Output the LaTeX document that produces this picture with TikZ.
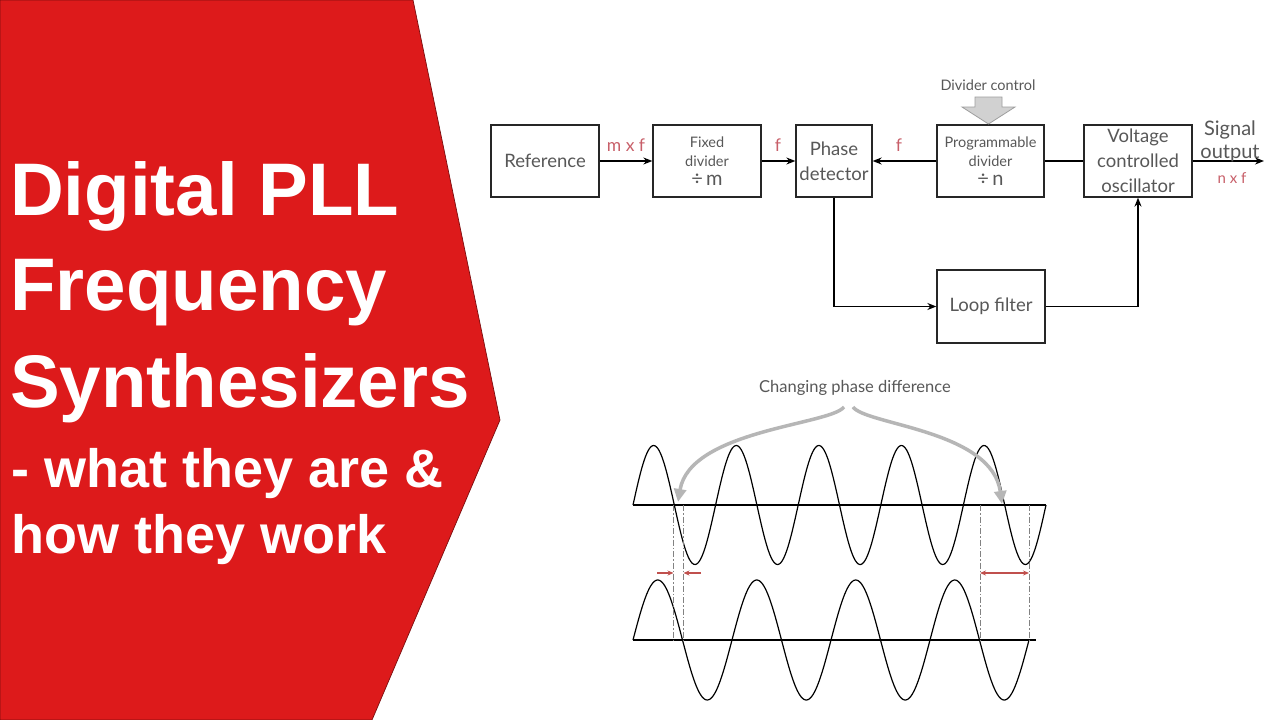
\documentclass[tikz,border=0pt]{standalone}
\usepackage{fontspec}
\newfontfamily\titlefont{Liberation Sans}
\newfontfamily\lato{Lato}
\usetikzlibrary{arrows.meta,calc}
\definecolor{slidered}{RGB}{221,26,27}
\definecolor{txtgray}{RGB}{88,88,88}
\definecolor{lblred}{RGB}{200,95,105}
\definecolor{arrgray}{RGB}{182,182,182}
\definecolor{dashgray}{RGB}{130,130,130}
\definecolor{tipred}{RGB}{192,80,77}
\begin{document}
\begin{tikzpicture}[x=1pt,y=-1pt,
  blk/.style={draw=black!85,line width=1.3pt,minimum width=108pt,minimum height=72pt,inner sep=0pt,text=txtgray,font=\lato\fontsize{18.5}{25}\selectfont,align=center},
  divblk/.style={blk,font=\lato\fontsize{14.5}{19}\selectfont},
  conn/.style={line width=1.4pt,-{Stealth[length=9pt,width=7pt]}},
  plainline/.style={line width=1.4pt},
  lbl/.style={text=lblred,font=\lato\fontsize{17.5}{18}\selectfont,inner sep=0pt},
  ttl/.style={text=white,font=\titlefont\bfseries\fontsize{74.5}{80}\selectfont,anchor=base west,inner sep=0pt},
  subttl/.style={text=white,font=\titlefont\bfseries\fontsize{54}{60}\selectfont,anchor=base west,inner sep=0pt},
  wave/.style={line width=1.2pt},
  guide/.style={draw=dashgray,line width=0.9pt,dash pattern=on 6pt off 2pt on 1.5pt off 2pt},
  gaparrow/.style={draw=tipred,line width=1.2pt},
  curvearrow/.style={draw=arrgray,line width=3.5pt,-{Triangle[length=13pt,width=12pt]}}
]
\useasboundingbox (0,0) rectangle (1280,720);
\fill[white] (0,0) rectangle (1280,720);

% red title panel
\filldraw[fill=slidered,draw=black!45!slidered,line width=0.7pt]
  (0,0) -- (413,0) -- (500,420) -- (372,720) -- (0,720) -- cycle;
\node[ttl] (t1) at (10,215) {Digital PLL};
\node[ttl] (t2) at (10,310) {Frequency};
\node[ttl] (t3) at (10,407) {Synthesizers};
\node[subttl] (t4) at (11,487) {- what they are \&};
\node[subttl] (t5) at (11,553) {how they work};

% block diagram
\node[blk] (ref) at (545,161) {Reference};
\node[divblk] (fix) at (707,161) {Fixed\\divider\\{\fontsize{20}{19}\selectfont ÷\,m}};
\node[blk,minimum width=76pt] (pd) at (834,161) {Phase\\detector};
\node[divblk,minimum width=107pt] (prog) at (990.5,161) {Programmable\\divider\\{\fontsize{20}{19}\selectfont ÷\,n}};
\node[blk] (vco) at (1138,161) {Voltage\\controlled\\oscillator};
\node[blk,minimum height=73pt] (lf) at (991,306.5) {Loop filter};

\coordinate (out) at (1264,161);
\draw[conn] (ref) -- (fix);
\draw[conn] (fix) -- (pd);
\draw[conn] (prog) -- (pd);
\draw[plainline] (vco) -- (prog);
\draw[conn] (vco) -- (out);
\draw[conn] (pd.south) |- (lf.west);
\draw[conn] (lf.east) -| (vco.south);

\node[lbl] (l1) at (626,145) {m x f};
\node[lbl] (l2) at (778,145) {f};
\node[lbl] (l3) at (899,145) {f};
\node[lbl,font=\lato\fontsize{15}{15}\selectfont] (l4) at (1232,178) {n x f};
\node[text=txtgray,font=\lato\fontsize{20}{23}\selectfont,align=center,inner sep=0pt] (sig) at (1230,141) {Signal\\output};

\node[text=txtgray,font=\lato\fontsize{14.5}{15}\selectfont,inner sep=0pt] (dc) at (988,85) {Divider control};
\filldraw[fill=black!18,draw=black!38,line width=0.8pt]
  (975,97) -- (1002,97) -- (1002,107) -- (1015,107) -- (988.5,124) -- (962,107) -- (975,107) -- cycle;

% waveforms
\node[text=txtgray,font=\lato\fontsize{16.5}{17}\selectfont,inner sep=0pt] (cpd) at (855,388) {Changing phase difference};
\coordinate (ta0) at (633,505); \coordinate (ta1) at (1046,505);
\coordinate (ba0) at (633,640); \coordinate (ba1) at (1036,640);
\draw[wave] (ta0) -- (ta1);
\draw[wave] (ba0) -- (ba1);
\draw[wave] plot[domain=0:413,samples=300,smooth] ({633+\x},{505-59.5*sin(4.35835*\x)});
\draw[wave] plot[domain=0:396,samples=300,smooth] ({633+\x},{640-60*sin(3.63636*\x)});

\draw[guide] (673.5,505) -- (673.5,640);
\draw[guide] (683.5,505) -- (683.5,640);
\draw[guide] (980,505) -- (980,640);
\draw[guide] (1029,505) -- (1029,640);

\draw[gaparrow,-{Stealth[length=6pt,width=5pt]}] (657,573) -- (673.5,573);
\draw[gaparrow,-{Stealth[length=6pt,width=5pt]}] (701,573) -- (683.5,573);
\draw[gaparrow,{Stealth[length=6pt,width=5pt]}-{Stealth[length=6pt,width=5pt]}] (980,573) -- (1029,573);

\coordinate (la) at (678,502);
\coordinate (ra) at (1002,504);
\draw[curvearrow] (844,407) .. controls (830,425) and (690,430) .. (la);
\draw[curvearrow] (853,407) .. controls (866,425) and (992,430) .. (ra);
\end{tikzpicture}
\end{document}
